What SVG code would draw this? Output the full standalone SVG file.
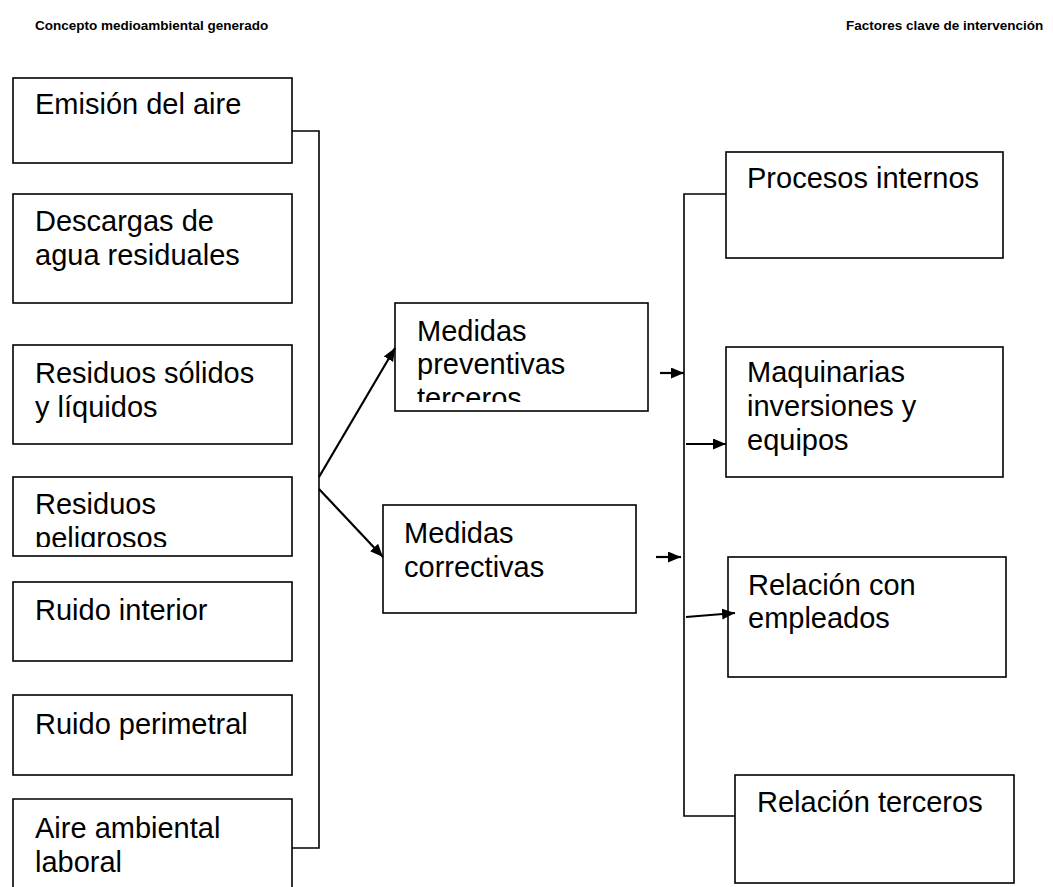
<svg xmlns="http://www.w3.org/2000/svg" width="1053" height="887" viewBox="0 0 1053 887">
<style>
.box{fill:#fff;stroke:#000;stroke-width:1.6}
.t{font-family:"Liberation Sans",Arial,sans-serif;font-size:29px;fill:#000}
.h{font-family:"Liberation Sans",Arial,sans-serif;font-size:13.5px;font-weight:bold;fill:#000}
.ln{fill:none;stroke:#000;stroke-width:1.6}
.ar{fill:none;stroke:#000;stroke-width:2.2}
</style>
<defs>
<marker id="ah" markerUnits="userSpaceOnUse" markerWidth="14" markerHeight="12" refX="13" refY="5.5" orient="auto">
<path d="M0,0 L13,5.5 L0,11 z" fill="#000"/>
</marker>
<clipPath id="c4"><rect x="13" y="476" width="279" height="71"/></clipPath>
<clipPath id="cp"><rect x="395" y="303" width="253" height="99"/></clipPath>
</defs>
<g id="titles">
<text class="h" x="35" y="30">Concepto medioambiental generado</text>
<text class="h" x="846" y="30">Factores clave de intervención</text>
</g>
<g id="n1"><rect class="box" x="13" y="78" width="279" height="85"/><text class="t" x="35" y="114">Emisión del aire</text></g>
<g id="n2"><rect class="box" x="13" y="194" width="279" height="109"/><text class="t" x="35" y="231">Descargas de</text><text class="t" x="35" y="265">agua residuales</text></g>
<g id="n3"><rect class="box" x="13" y="345" width="279" height="99"/><text class="t" x="35" y="383">Residuos sólidos</text><text class="t" x="35" y="417">y líquidos</text></g>
<g id="n4"><rect class="box" x="13" y="477" width="279" height="79"/><g clip-path="url(#c4)"><text class="t" x="35" y="514">Residuos</text><text class="t" x="35" y="548">peligrosos</text></g></g>
<g id="n5"><rect class="box" x="13" y="582" width="279" height="79"/><text class="t" x="35" y="620">Ruido interior</text></g>
<g id="n6"><rect class="box" x="13" y="695" width="279" height="80"/><text class="t" x="35" y="734">Ruido perimetral</text></g>
<g id="n7"><path class="box" d="M13,888 V799 H292 V888"/><text class="t" x="35" y="838">Aire ambiental</text><text class="t" x="35" y="872">laboral</text></g>
<g id="n8"><rect class="box" x="395" y="303" width="253" height="108"/><g clip-path="url(#cp)"><text class="t" x="417" y="341">Medidas</text><text class="t" x="417" y="374">preventivas</text><text class="t" x="417" y="408">terceros</text></g></g>
<g id="n9"><rect class="box" x="383" y="505" width="253" height="108"/><text class="t" x="404" y="543">Medidas</text><text class="t" x="404" y="577">correctivas</text></g>
<g id="n10"><rect class="box" x="726" y="152" width="277" height="106"/><text class="t" x="747" y="188">Procesos internos</text></g>
<g id="n11"><rect class="box" x="726" y="347" width="277" height="130"/><text class="t" x="747" y="382">Maquinarias</text><text class="t" x="747" y="416">inversiones y</text><text class="t" x="747" y="450">equipos</text></g>
<g id="n12"><rect class="box" x="728" y="557" width="278" height="120"/><text class="t" x="748" y="595">Relación con</text><text class="t" x="748" y="628">empleados</text></g>
<g id="n13"><rect class="box" x="735" y="775" width="279" height="108"/><text class="t" x="757" y="812">Relación terceros</text></g>
<g id="connectors">
<path class="ln" d="M292,131 H319 V848 H292"/>
<path class="ln" d="M726,194 H684 V816 H735"/>
<line class="ar" x1="319" y1="477" x2="395" y2="348" marker-end="url(#ah)"/>
<line class="ar" x1="319" y1="489" x2="383" y2="557" marker-end="url(#ah)"/>
<line class="ar" x1="660" y1="373" x2="684" y2="373" marker-end="url(#ah)"/>
<line class="ar" x1="656" y1="557" x2="681" y2="557" marker-end="url(#ah)"/>
<line class="ar" x1="686" y1="444" x2="726" y2="444" marker-end="url(#ah)"/>
<line class="ar" x1="686" y1="617" x2="735" y2="613" marker-end="url(#ah)"/>
</g>
</svg>
